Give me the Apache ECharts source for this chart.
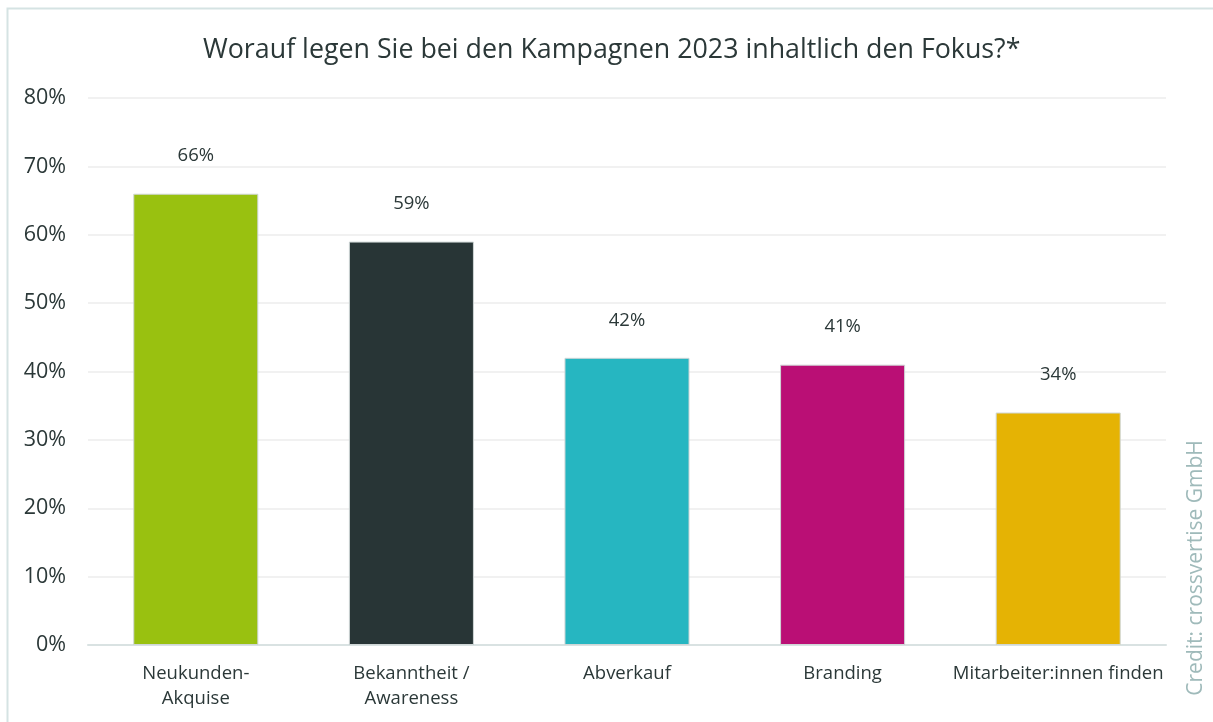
<!DOCTYPE html>
<html>
<head>
<meta charset="utf-8">
<script src="https://cdn.jsdelivr.net/npm/echarts@6/dist/echarts.min.js"></script>
<style>
  html, body { margin: 0; padding: 0; background: #fff; }
  #chart { width: 1213px; height: 722px; }
</style>
</head>
<body>
<div id="chart"></div>
<script>
var categories = ['Neukunden-\nAkquise', 'Bekanntheit /\nAwareness', 'Abverkauf', 'Branding', 'Mitarbeiter:innen finden'];
var values = [66, 59, 42, 41, 34];
var barColors = ['#99c110', '#283536', '#26b6c1', '#ba0f75', '#e5b304'];
var yTicks = [0, 10, 20, 30, 40, 50, 60, 70, 80];

//柱形图
var myChart = echarts.init(document.getElementById('chart'));
var option = {
    textStyle: { fontFamily: 'Open Sans' },
    title: {
        text: 'Worauf legen Sie bei den Kampagnen 2023 inhaltlich den Fokus?*',
        left: 198,
        top: 32,
        textStyle: { fontFamily: 'Open Sans', fontSize: 26.8, fontWeight: 'normal', color: '#2b3838' }
    },
    graphic: [
        {
            type: 'rect',
            shape: { x: 7.5, y: 8.5, width: 1300, height: 800 },
            style: { fill: 'none', stroke: '#d5e3e3', lineWidth: 2 },
            silent: true
        },
        {
            type: 'text',
            x: 1196,
            y: 568,
            rotation: Math.PI / 2,
            style: {
                text: 'Credit: crossvertise GmbH',
                fontFamily: 'Open Sans',
                fontSize: 21,
                fill: '#9fbaba',
                align: 'center',
                verticalAlign: 'middle'
            }
        }
    ],
    grid: { left: 88, right: 47, top: 98, bottom: 77 },
    xAxis: {
        type: 'category',
        data: categories,
        axisLine: { lineStyle: { color: '#d9e2e2', width: 2 } },
        axisTick: { show: false },
        axisLabel: { color: '#2b3838', fontSize: 18.5, lineHeight: 25, margin: 16, interval: 0 }
    },
    yAxis: {
        type: 'value',
        min: 0,
        max: 80,
        interval: 10,
        axisLine: { show: false },
        axisTick: { show: false },
        axisLabel: {
            color: '#2b3838',
            fontSize: 21.5,
            margin: 22,
            formatter: function (v) { return yTicks.indexOf(v) >= 0 ? v + '%' : ''; }
        },
        splitLine: { lineStyle: { color: '#ececec', width: 1.5 } }
    },
    series: [{
        type: 'bar',
        barWidth: '58%',
        data: values.map(function (v, i) {
            return { value: v, itemStyle: { color: barColors[i] } };
        }),
        itemStyle: { borderColor: '#cfd6d6', borderWidth: 1 },
        label: {
            show: true,
            position: 'top',
            distance: 28,
            color: '#2b3838',
            fontSize: 18.5,
            formatter: '{c}%'
        }
    }]
};
myChart.setOption(option, true);
</script>
</body>
</html>
